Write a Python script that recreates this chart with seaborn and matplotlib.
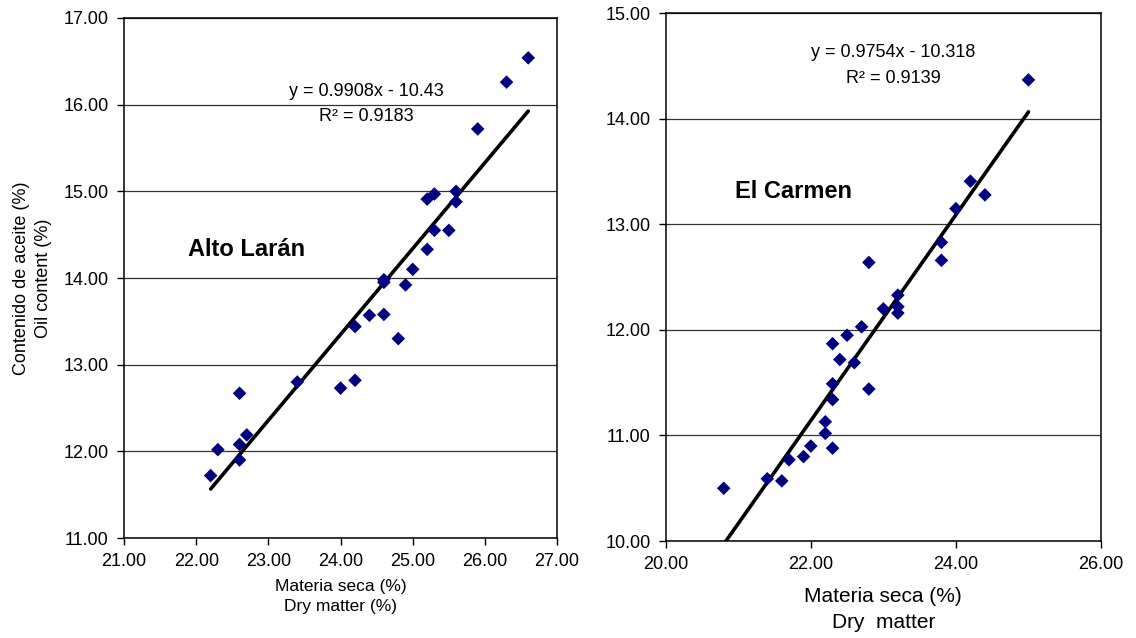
import numpy as np
import pandas as pd
import seaborn as sns
import matplotlib.pyplot as plt
from matplotlib.ticker import FormatStrFormatter, MultipleLocator

sns.set_theme(style="ticks")
plt.rcParams["font.family"] = ["Liberation Sans", "DejaVu Sans"]
plt.rcParams["text.color"] = "black"
plt.rcParams["axes.labelcolor"] = "black"

# -------------------------------
# DATA
# -------------------------------
alto_x = [22.2, 22.3, 22.6, 22.6, 22.6, 22.7, 23.4, 24.0, 24.2, 24.2, 24.4, 24.6, 24.6, 24.6,
          24.8, 24.9, 25.0, 25.2, 25.2, 25.3, 25.3, 25.5, 25.6, 25.6, 25.9, 26.3, 26.6]
alto_y = [11.72, 12.02, 12.67, 12.08, 11.90, 12.19, 12.80, 12.73, 12.82, 13.44, 13.57, 13.58, 13.95, 13.98,
          13.30, 13.92, 14.10, 14.33, 14.91, 14.97, 14.55, 14.55, 15.00, 14.88, 15.72, 16.26, 16.54]
alto_fit = (0.9908, -10.43)
alto_r2 = 0.9183

carmen_x = [25.0, 24.2, 24.4, 24.0, 23.8, 23.8, 22.8, 23.2, 23.2, 23.2, 23.0, 22.7, 22.5, 22.3,
            22.4, 22.6, 22.8, 22.3, 22.3, 22.2, 22.2, 22.0, 21.9, 22.3, 21.7, 21.4, 21.6, 20.8]
carmen_y = [14.37, 13.41, 13.28, 13.15, 12.83, 12.66, 12.64, 12.33, 12.22, 12.16, 12.20, 12.03, 11.95, 11.87,
            11.72, 11.69, 11.44, 11.49, 11.34, 11.13, 11.02, 10.90, 10.80, 10.88, 10.77, 10.59, 10.57, 10.50]
carmen_fit = (0.9754, -10.318)
carmen_r2 = 0.9139

fig = plt.figure(figsize=(11.36, 6.38), dpi=100)
ax1 = fig.add_axes([0.1092, 0.1567, 0.3812, 0.8151])
ax2 = fig.add_axes([0.5860, 0.1520, 0.3832, 0.8270])


def panel(ax, xs, ys, fit, xlim, ylim, xstep):
    df = pd.DataFrame({"x": xs, "y": ys})
    # regression line from the printed equation, over the data range
    lx = np.array([min(xs), max(xs)])
    sns.lineplot(x=lx, y=fit[0] * lx + fit[1], ax=ax, color="black", lw=2.6, zorder=2)
    sns.scatterplot(data=df, x="x", y="y", ax=ax, marker="D", s=48, color="#000080",
                    edgecolor="none", zorder=3)
    ax.set_xlim(*xlim)
    ax.set_ylim(*ylim)
    ax.xaxis.set_major_locator(MultipleLocator(xstep))
    ax.yaxis.set_major_locator(MultipleLocator(1))
    ax.xaxis.set_major_formatter(FormatStrFormatter("%.2f"))
    ax.yaxis.set_major_formatter(FormatStrFormatter("%.2f"))
    ax.grid(axis="y", color="#333333", lw=0.9)
    ax.set_axisbelow(True)
    for s in ax.spines.values():
        s.set_visible(True)
        s.set_color("black")
        s.set_linewidth(1.1)
    ax.tick_params(direction="out", length=5, width=1, colors="black", labelsize=13, pad=6)
    ax.set_xlabel("")
    ax.set_ylabel("")


panel(ax1, alto_x, alto_y, alto_fit, (21, 27), (11, 17), 1)
panel(ax2, carmen_x, carmen_y, carmen_fit, (20, 26), (10, 15), 2)

# labels
ax1.set_xlabel("Materia seca (%)\nDry matter (%)", fontsize=12.5, linespacing=1.45, labelpad=6)
ax1.set_ylabel("Contenido de aceite (%)\nOil content (%)", fontsize=13, linespacing=1.45, labelpad=8)
ax2.set_xlabel("Materia seca (%)\nDry  matter", fontsize=15, linespacing=1.45, labelpad=10)

# equations and site names
ax1.text(0.559, 0.858, "y = %.4fx - %.2f" % (alto_fit[0], -alto_fit[1]), transform=ax1.transAxes,
         ha="center", va="center", fontsize=13)
ax1.text(0.559, 0.810, "R² = %.4f" % alto_r2, transform=ax1.transAxes,
         ha="center", va="center", fontsize=13)
ax1.text(0.282, 0.554, "Alto Larán", transform=ax1.transAxes, ha="center", va="center",
         fontsize=17, fontweight="bold")

ax2.text(0.522, 0.925, "y = %.4fx - %.3f" % (carmen_fit[0], -carmen_fit[1]), transform=ax2.transAxes,
         ha="center", va="center", fontsize=13)
ax2.text(0.524, 0.876, "R² = %.4f" % carmen_r2, transform=ax2.transAxes,
         ha="center", va="center", fontsize=13)
ax2.text(0.293, 0.662, "El Carmen", transform=ax2.transAxes, ha="center", va="center",
         fontsize=17, fontweight="bold")

fig.savefig("out.png", dpi=100)
